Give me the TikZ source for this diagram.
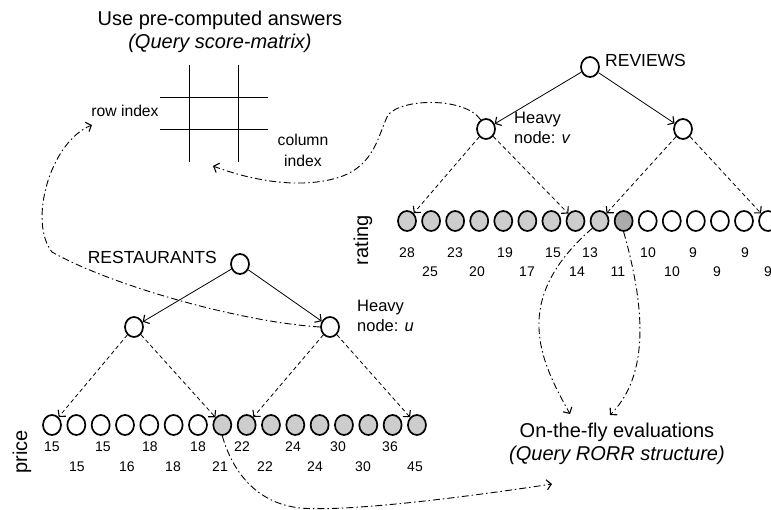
\documentclass[tikz,border=0pt]{standalone}
\usepackage{fontspec}
\setmainfont{Liberation Sans}
\usetikzlibrary{arrows.meta,shapes.geometric}
\definecolor{lightfill}{HTML}{CDCDCD}
\definecolor{darkfill}{HTML}{ABABAB}
\begin{document}
\begin{tikzpicture}[x=1pt,y=-1pt,
  leaf/.style={ellipse,draw,line width=1.7pt,minimum width=18pt,minimum height=20pt,inner sep=0pt,fill=white},
  lit/.style={leaf,fill=lightfill},
  drk/.style={leaf,fill=darkfill},
  tip/.style={-{Straight Barb[length=4.5pt,width=10pt,line width=1.1pt]}},
  solidarrow/.style={tip,line width=0.8pt},
  dasharrow/.style={tip,line width=0.8pt,dash pattern=on 4pt off 3pt},
  dotdash/.style={tip,line width=0.9pt,dash pattern=on 7pt off 3pt on 1.5pt off 3pt},
  num/.style={inner sep=0pt,font=\fontsize{14}{16}\selectfont},
  big/.style={font=\fontsize{20}{23}\selectfont,inner sep=0pt,align=center},
  mid/.style={font=\fontsize{17.5}{20}\selectfont,inner sep=0pt},
  heavy/.style={font=\fontsize{16.5}{20}\selectfont,inner sep=0pt,align=left,anchor=north west},
  small/.style={font=\fontsize{15.7}{21}\selectfont,inner sep=0pt,align=center},
  grid line/.style={line width=0.9pt}
]
\useasboundingbox (0,0) rectangle (771,510);
\clip (0,0) rectangle (771,510);

% ---------- score matrix ----------
\node[big] (title) at (220,31.5) {Use pre-computed answers\\\textit{(Query score-matrix)}};
\draw[grid line] (189,65) -- (189,162);
\draw[grid line] (238,65) -- (238,162);
\draw[grid line] (160,97) -- (268,97);
\draw[grid line] (160,129) -- (268,129);
\node[small] (rowidx) at (125,111) {row index};
\node[small] (colidx) at (303,150) {column\\index};

% ---------- RESTAURANTS tree ----------
\node[leaf] (R) at (240,264) {};
\node[leaf] (RL) at (134,327) {};
\node[leaf] (RR) at (330,327) {};
\node[mid,anchor=east] (restlabel) at (217,257) {RESTAURANTS};
\node[heavy] (heavyu) at (357,300) {Heavy\\node: \textit{u}};
\foreach \i in {1,...,7} \node[leaf] (p\i) at ({52+24.33*(\i-1)},425) {};
\foreach \i in {8,...,16} \node[lit] (p\i) at ({52+24.33*(\i-1)},425) {};
\node[big,rotate=90] (pricelabel) at (22,452) {price};
\foreach \v/\x [count=\k] in {15/52,15/103,18/150,18/198,22/242,24/293,30/338,36/390}
  \node[num] (pa\k) at (\x,447) {\v};
\foreach \v/\x [count=\k] in {15/77,16/127,18/173,21/220,22/265,24/315,30/363,45/415}
  \node[num] (pb\k) at (\x,467) {\v};
\draw[solidarrow] (R) -- (RL);
\draw[solidarrow] (R) -- (RR);
\draw[dasharrow] (RL) -- (p1);
\draw[dasharrow] (RL) -- (p8);
\draw[dasharrow] (RR) -- (p9);
\draw[dasharrow] (RR) -- (p16);

% ---------- REVIEWS tree ----------
\node[leaf] (V) at (590,67) {};
\node[leaf] (VL) at (486,129) {};
\node[leaf] (VR) at (683,129) {};
\node[mid,anchor=west] (revlabel) at (605,60) {REVIEWS};
\node[heavy] (heavyv) at (514,112) {Heavy\\node: \textit{v}};
\foreach \i in {1,...,9} \node[lit] (r\i) at ({407+24.07*(\i-1)},221) {};
\node[drk] (r10) at ({407+24.07*9},221) {};
\foreach \i in {11,...,16} \node[leaf] (r\i) at ({407+24.07*(\i-1)},221) {};
\node[big,rotate=90] (ratinglabel) at (363,240) {rating};
\foreach \v/\x [count=\k] in {28/407,23/455,19/505,15/553,13/590,10/648,9/693,9/745}
  \node[num] (ra\k) at (\x,253) {\v};
\foreach \v/\x [count=\k] in {25/430,20/477,17/527,14/577,11/618,10/672,9/717,9/768}
  \node[num] (rb\k) at (\x,272) {\v};
\draw[solidarrow] (V) -- (VL);
\draw[solidarrow] (V) -- (VR);
\draw[dasharrow] (VL) -- (r1);
\draw[dasharrow] (VL) -- (r8);
\draw[dasharrow] (VR) -- (r9);
\draw[dasharrow] (VR) -- (r16);

% ---------- on-the-fly ----------
\node[big] (fly) at (617,444) {On-the-fly evaluations\\\textit{(Query RORR structure)}};

% ---------- dash-dot connectors ----------
\coordinate (rowtip) at (92,125);
\coordinate (coltip) at (213,166);
\coordinate (flytipA) at (552,484);
\coordinate (flytipB) at (570,414);
\coordinate (flytipC) at (610,415);

\draw[dotdash] (RR.west) .. controls (240,322) and (110,285) .. (52,252)
  .. controls (28,222) and (50,142) .. (rowtip);
\draw[dotdash] (VL.120) .. controls (465,97) and (402,98) .. (388,115)
  .. controls (378,135) and (375,165) .. (340,177)
  .. controls (300,190) and (250,180) .. (coltip);
\draw[dotdash] (p8.south) .. controls (232,470) and (255,503) .. (300,508)
  .. controls (345,512) and (460,498) .. (flytipA);
\draw[dotdash] (r9.225) .. controls (510,300) and (540,360) .. (flytipB);
\draw[dotdash] (r10.south) .. controls (640,290) and (655,370) .. (flytipC);
\end{tikzpicture}
\end{document}
